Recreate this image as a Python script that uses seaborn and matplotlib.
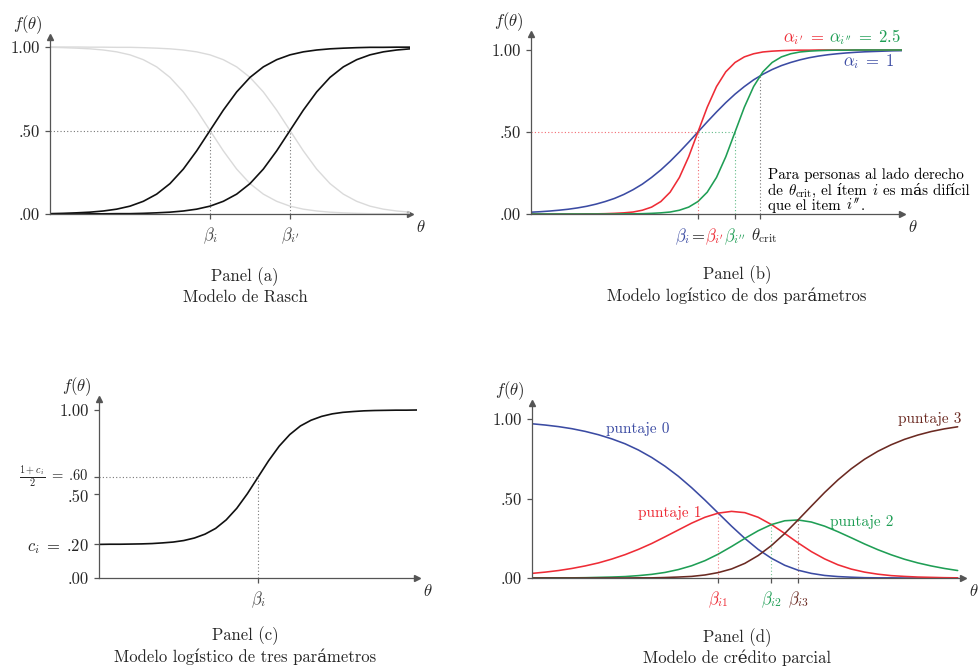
#!/usr/bin/env python3
"""
Curvas características de ítems: Rasch, 2PL, 3PL y crédito parcial (cuatro paneles).
"""
import matplotlib
matplotlib.use("Agg")
import matplotlib.pyplot as plt
import matplotlib.transforms as mtransforms
import seaborn as sns

# ---- Panel (a): modelo de Rasch (dos ítems y sus complementos en gris) ----
theta_a = [-6.0, -5.5, -5.0, -4.5, -4.0, -3.5, -3.0, -2.5, -2.0, -1.5, -1.0, -0.5, 0.0,
           0.5, 1.0, 1.5, 2.0, 2.5, 3.0, 3.5, 4.0, 4.5, 5.0, 5.5, 6.0, 6.5, 7.0, 7.5]
rasch_i = [.002, .004, .007, .011, .018, .029, .047, .076, .119, .182, .269, .378, .500,
           .622, .731, .818, .881, .924, .953, .971, .982, .989, .993, .996, .998, .998, .999, .999]
rasch_i2 = [.000, .000, .000, .001, .001, .002, .002, .004, .007, .011, .018, .029, .047,
            .076, .119, .182, .269, .378, .500, .622, .731, .818, .881, .924, .953, .971, .982, .989]
rasch_i_inv = [.998, .996, .993, .989, .982, .971, .953, .924, .881, .818, .731, .622, .500,
               .378, .269, .182, .119, .076, .047, .029, .018, .011, .007, .004, .002, .002, .001, .001]
rasch_i2_inv = [1.000, 1.000, 1.000, .999, .999, .998, .998, .996, .993, .989, .982, .971, .953,
                .924, .881, .818, .731, .622, .500, .378, .269, .182, .119, .076, .047, .029, .018, .011]
beta_a = [0.0, 3.0]
beta_a_labels = [r"$\beta_i$", r"$\beta_{i'}$"]

# ---- Panel (b): logístico de dos parámetros ----
theta_b = [-4.5, -4.25, -4.0, -3.75, -3.5, -3.25, -3.0, -2.75, -2.5, -2.25, -2.0, -1.75, -1.5,
           -1.25, -1.0, -0.75, -0.5, -0.25, 0.0, 0.25, 0.5, 0.75, 1.0, 1.25, 1.5, 1.75, 2.0,
           2.25, 2.5, 2.75, 3.0, 3.25, 3.5, 3.75, 4.0, 4.25, 4.5, 4.75, 5.0, 5.25, 5.5]
p_alpha1 = [.011, .014, .018, .023, .029, .037, .047, .060, .076, .095, .119, .148, .182,
            .223, .269, .321, .378, .438, .500, .562, .622, .679, .731, .777, .818, .852, .881,
            .905, .924, .940, .953, .963, .971, .977, .982, .986, .989, .991, .993, .995, .996]
p_alpha25_i1 = [.000, .000, .000, .000, .000, .000, .001, .001, .002, .004, .007, .012, .023,
                .042, .076, .133, .223, .349, .500, .651, .777, .867, .924, .958, .977, .988, .993,
                .996, .998, .999, .999, 1.0, 1.0, 1.0, 1.0, 1.0, 1.0, 1.0, 1.0, 1.0, 1.0]
p_alpha25_i2 = [.000, .000, .000, .000, .000, .000, .000, .000, .000, .000, .001, .001, .002,
                .004, .007, .012, .023, .042, .076, .133, .223, .349, .500, .651, .777, .867, .924,
                .958, .977, .988, .993, .996, .998, .999, .999, 1.0, 1.0, 1.0, 1.0, 1.0, 1.0]
beta_b = [0.0, 1.0]
theta_crit = 1.667
crit_level = 0.84

# ---- Panel (c): logístico de tres parámetros ----
theta_c = [-7.5, -7.0, -6.5, -6.0, -5.5, -5.0, -4.5, -4.0, -3.5, -3.0, -2.5, -2.0, -1.5, -1.0,
           -0.5, 0.0, 0.5, 1.0, 1.5, 2.0, 2.5, 3.0, 3.5, 4.0, 4.5, 5.0, 5.5, 6.0, 6.5, 7.0, 7.5]
p_3pl = [.200, .201, .201, .202, .203, .205, .209, .214, .223, .238, .261, .295, .346, .415,
         .502, .600, .698, .785, .854, .905, .939, .962, .977, .986, .991, .995, .997, .998,
         .999, .999, 1.000]
beta_c = 0.0
c_level = 0.20
mid_level = 0.60

# ---- Panel (d): crédito parcial ----
theta_d = [-3.5, -3.25, -3.0, -2.75, -2.5, -2.25, -2.0, -1.75, -1.5, -1.25, -1.0, -0.75, -0.5,
           -0.25, 0.0, 0.25, 0.5, 0.75, 1.0, 1.25, 1.5, 1.75, 2.0, 2.25, 2.5, 2.75, 3.0, 3.25,
           3.5, 3.75, 4.0, 4.25, 4.5]
score0 = [.970, .962, .952, .939, .922, .901, .875, .844, .805, .758, .703, .640, .568, .490,
          .408, .326, .249, .180, .124, .080, .049, .029, .016, .009, .005, .002, .001, .001,
          .000, .000, .000, .000, .000]
score1 = [.029, .037, .047, .060, .076, .095, .119, .147, .180, .217, .259, .302, .345, .382,
          .408, .419, .411, .382, .336, .280, .221, .166, .120, .083, .056, .037, .024, .015,
          .010, .006, .004, .002, .001]
score2 = [.000, .001, .001, .001, .002, .004, .006, .009, .015, .023, .035, .053, .077, .109,
          .150, .198, .249, .297, .336, .360, .365, .352, .326, .291, .253, .214, .178, .146,
          .118, .095, .076, .060, .047]
score3 = [.000, .000, .000, .000, .000, .000, .000, .000, .001, .001, .003, .006, .010, .019,
          .034, .057, .092, .141, .204, .280, .365, .452, .538, .617, .687, .747, .797, .838,
          .872, .899, .921, .938, .951]
beta_d = [0.0, 1.0, 1.5]
cross_d = [0.41, 0.34, 0.365]
beta_d_labels = [r"$\beta_{i1}$", r"$\beta_{i2}$", r"$\beta_{i3}$"]
score_labels = ["puntaje 0", "puntaje 1", "puntaje 2", "puntaje 3"]

# colours
BLUE, RED, GREEN, BROWN = "#3b4ba3", "#ee2c36", "#1f9e55", "#6b2a22"
AXIS = "#555555"
GREY = "#dadada"

sns.set_style("ticks")
plt.rcParams["font.family"] = ["cmr10", "DejaVu Serif"]
plt.rcParams["mathtext.fontset"] = "cm"
plt.rcParams["axes.formatter.use_mathtext"] = True

W, H = 979, 667
fig = plt.figure(figsize=(W / 100, H / 100), dpi=100)


def panel(left, tip, base, one, top):
    """Axes box in pixels: y-axis at `left`, arrow tip at `tip`, value 0 at `base`, 1 at `one`."""
    ax = fig.add_axes([left / W, 1 - base / H, (tip - left) / W, (base - top) / H])
    ax.patch.set_alpha(0)
    for s in ("top", "right"):
        ax.spines[s].set_visible(False)
    for s in ("left", "bottom"):
        ax.spines[s].set_color(AXIS)
        ax.spines[s].set_linewidth(0.9)
    ax.plot(1, 0, ">", ms=4, color=AXIS, transform=ax.transAxes, clip_on=False)
    ax.plot(0, 1, "^", ms=4, color=AXIS, transform=ax.transAxes, clip_on=False)
    ax.tick_params(direction="out", length=3.5, width=0.9, color=AXIS, labelsize=12, pad=4)
    ax.annotate(r"$f(\theta)$", xy=(0, 1), xycoords="axes fraction", xytext=(-16, 9),
                textcoords="offset points", ha="center", va="center", fontsize=12)
    ax.annotate(r"$\theta$", xy=(1, 0), xycoords="axes fraction", xytext=(8, -9.5),
                textcoords="offset points", ha="center", va="center", fontsize=12)
    ax.ylim_top = (base - top) / (base - one)
    return ax


def finish(ax, xlim):
    ax.set_xlim(*xlim)
    ax.set_ylim(0, ax.ylim_top)
    ax.set_xlabel("")
    ax.set_ylabel("")


def line(ax, x, y, color, lw=1.15):
    sns.lineplot(x=x, y=y, ax=ax, color=color, linewidth=lw, legend=False)


def title(x, y, s):
    fig.text(x / W, 1 - y / H, s, ha="center", va="center", fontsize=12)


def chain(x, y, pieces, size, gap=0):
    """Write text pieces one after another on a line starting at pixel x."""
    r = fig.canvas.get_renderer()
    for s, c in pieces:
        t = fig.text(x / W, 1 - y / H, s, color=c, ha="left", va="baseline", fontsize=size)
        x = t.get_window_extent(renderer=r).x1 + gap


def nudge(label, dy_pt):
    label.set_transform(label.get_transform()
                        + mtransforms.ScaledTranslation(0, dy_pt / 72, fig.dpi_scale_trans))


yt = [0.0, 0.5, 1.0]
ytl = [".00", ".50", "1.00"]
dot = dict(linestyles=(0, (1, 2)), linewidth=0.8)

# ---- (a) ----
ax = panel(50, 410, 214, 47, 37)
line(ax, theta_a, rasch_i_inv, GREY, 1.0)
line(ax, theta_a, rasch_i2_inv, GREY, 1.0)
line(ax, theta_a, rasch_i, "#111111", 1.2)
line(ax, theta_a, rasch_i2, "#111111", 1.2)
ax.hlines(0.5, theta_a[0], beta_a[1], colors="#777777", **dot)
ax.vlines(beta_a, 0, 0.5, colors="#777777", **dot)
ax.set_yticks(yt, ytl)
ax.set_xticks(beta_a, beta_a_labels)
ax.tick_params(axis="x", labelcolor="#444444", pad=5)
finish(ax, (theta_a[0], theta_a[-1]))
title(245, 277, "Panel (a)")
title(245, 297, "Modelo de Rasch")

# ---- (b) ----
ax = panel(531, 902, 214, 50, 34)
line(ax, theta_b, p_alpha1, BLUE)
line(ax, theta_b, p_alpha25_i1, RED)
line(ax, theta_b, p_alpha25_i2, GREEN)
ax.hlines(0.5, theta_b[0], beta_b[0], colors=RED, alpha=0.7, **dot)
ax.hlines(0.5, beta_b[0], beta_b[1], colors=GREEN, alpha=0.7, **dot)
ax.vlines(beta_b[0], 0, 0.5, colors=RED, alpha=0.7, **dot)
ax.vlines(beta_b[1], 0, 0.5, colors=GREEN, alpha=0.7, **dot)
ax.vlines(theta_crit, 0, crit_level, colors="#777777", **dot)
ax.set_yticks(yt, ytl)
ax.set_xticks([beta_b[0], beta_b[1], theta_crit], ["", "", ""])
for tk, c in zip(ax.xaxis.get_major_ticks(), [AXIS, GREEN, AXIS]):
    tk.tick1line.set_color(c)
lab = dict(xycoords=("data", "axes fraction"), textcoords="offset points",
           va="top", fontsize=12)
ax.annotate(r"$=$", xy=(beta_b[0], 0), xytext=(0, -9), ha="center", **lab)
ax.annotate(r"$\beta_i$", xy=(beta_b[0], 0), xytext=(-5.5, -9), ha="right", color=BLUE, **lab)
ax.annotate(r"$\beta_{i'}$", xy=(beta_b[0], 0), xytext=(5, -9), ha="left", color=RED, **lab)
ax.annotate(r"$\beta_{i''}$", xy=(beta_b[1], 0), xytext=(0, -9), ha="center", color=GREEN, **lab)
ax.annotate(r"$\theta_{\mathrm{crit}}$", xy=(theta_crit, 0), xytext=(-6.5, -9), ha="left", **lab)
finish(ax, (theta_b[0], theta_b[-1]))

chain(783, 42, [(r"$\alpha_{i'}\;=$", RED), (r"$\alpha_{i''}\;=\;2.5$", GREEN)], 12, gap=5)
fig.text(895 / W, 1 - 62 / H, r"$\alpha_i\;=\;1$", color=BLUE, ha="right", va="center", fontsize=12)
chain(768, 179, [("Para personas al lado derecho", "black")], 10.8)
chain(768, 195, [("de ", "black"), (r"$\theta_{\mathrm{crit}}$", "black"),
                 (", el ítem ", "black"), (r"$i$", "black"), (" es más difícil", "black")], 10.8)
chain(768, 210, [("que el item ", "black"), (r"$i''$", "black"), (".", "black")], 10.8)
title(737, 275, "Panel (b)")
title(737, 296, "Modelo logístico de dos parámetros")

# ---- (c) ----
ax = panel(99, 417, 578, 410, 399)
line(ax, theta_c, p_3pl, "#111111", 1.2)
ax.hlines(mid_level, theta_c[0], beta_c, colors="#777777", **dot)
ax.vlines(beta_c, 0, mid_level, colors="#777777", **dot)
ax.set_yticks([0.0, c_level, 0.5, mid_level, 1.0],
              [".00", r"$c_i\;=\;$.20", ".50", r"$\frac{1+c_i}{2}\;=\;$.60", "1.00"])
ylabs = ax.get_yticklabels()
ylabs[3].set_fontsize(10.5)
nudge(ylabs[3], 3.2)
nudge(ylabs[2], -1.2)
ax.set_xticks([beta_c], [r"$\beta_i$"])
ax.tick_params(axis="x", labelcolor="#444444", pad=5)
finish(ax, (theta_c[0], theta_c[-1]))
title(245, 636, "Panel (c)")
title(245, 657, "Modelo logístico de tres parámetros")

# ---- (d) ----
ax = panel(532, 963, 578, 419, 403)
cols = [BLUE, RED, GREEN, BROWN]
for ys, c in zip([score0, score1, score2, score3], cols):
    line(ax, theta_d, ys, c)
for b, h, c in zip(beta_d, cross_d, cols[1:]):
    ax.vlines(b, 0, h, colors=c, alpha=0.6, **dot)
ax.set_yticks(yt, ytl)
ax.set_xticks(beta_d, beta_d_labels)
ax.tick_params(axis="x", pad=5)
for tk, c in zip(ax.xaxis.get_major_ticks(), cols[1:]):
    tk.tick1line.set_color(c)
    tk.label1.set_color(c)
finish(ax, (theta_d[0], 4.6))
for (xx, yy), s, c in zip([(638, 429), (670, 513), (862, 522), (930, 419)], score_labels, cols):
    fig.text(xx / W, 1 - yy / H, s, color=c, ha="center", va="center", fontsize=11)
title(737, 638, "Panel (d)")
title(737, 658, "Modelo de crédito parcial")

fig.savefig("out.png", dpi=100)
